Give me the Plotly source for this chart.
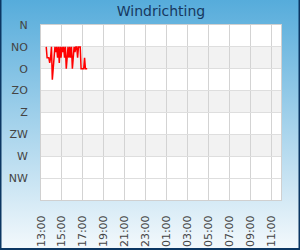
import base64
import pandas as pd
import plotly.graph_objects as go

# ---- data ----
title_text = "Windrichting"
direction_labels = ["N", "NO", "O", "ZO", "Z", "ZW", "W", "NW"]
direction_degrees = [0, 45, 90, 135, 180, 225, 270, 315]
start_time = "2024-06-10 13:30"
interval = "5min"
wind_dir = [45, 67.5, 67.5, 67.5, 78, 67.5, 45, 112.5, 90, 67.5,
            45, 56, 45, 67.5, 45, 78, 45, 67.5, 45, 56,
            45, 67.5, 45, 90, 56, 45, 67.5, 45, 67.5, 45,
            90, 67.5, 45, 56, 45, 45, 67.5, 45, 45, 45,
            90, 90, 90, 90, 67.5, 90, 90, 90]
x_start = "2024-06-10 13:00"
x_end = "2024-06-11 11:57"
band_pairs = [(45, 90), (135, 180), (225, 270)]

times = pd.date_range(start_time, periods=len(wind_dir), freq=interval)

W, H = 300, 250
ML, MR, MT, MB = 41, 19, 25, 50
PW, PH = W - ML - MR, H - MT - MB

def px(xp):
    return (xp - ML) / PW

def py(yp):
    return 1 - (yp - MT) / PH

svg = (
    f'<svg xmlns="http://www.w3.org/2000/svg" width="{W}" height="{H}" preserveAspectRatio="none">'
    '<defs><linearGradient id="g" x1="0" y1="0" x2="0" y2="1">'
    '<stop offset="0" stop-color="#56acdb"/>'
    '<stop offset="1" stop-color="#f4f9fc"/>'
    '</linearGradient></defs>'
    f'<rect width="{W}" height="{H}" fill="url(#g)"/></svg>'
)
svg_uri = "data:image/svg+xml;base64," + base64.b64encode(svg.encode()).decode()

fig = go.Figure()
fig.add_trace(go.Scatter(
    x=times, y=wind_dir, mode="lines",
    line=dict(color="#ff0000", width=1.5),
    hoverinfo="skip", showlegend=False,
))

shapes = [dict(type="rect", xref="paper", yref="paper", x0=0, x1=1, y0=0, y1=1,
               fillcolor="#ffffff", line=dict(width=0), layer="below")]
for a, b in band_pairs:
    shapes.append(dict(type="rect", xref="paper", yref="y", x0=0, x1=1, y0=a, y1=b,
                       fillcolor="#f2f2f2", line=dict(width=0), layer="below"))
# outer border: left, bottom, right
bx0, bx1 = px(0.5), px(W - 0.5)
by0, by1 = py(H - 1), py(0)
shapes.append(dict(type="path", xref="paper", yref="paper",
                   path=f"M {bx0},{by1} L {bx0},{by0} L {bx1},{by0} L {bx1},{by1}",
                   line=dict(color="#0b3662", width=2), layer="above"))

fig.update_layout(
    template="none",
    width=W, height=H,
    margin=dict(l=ML, r=MR, t=MT, b=MB, pad=0, autoexpand=False),
    paper_bgcolor="#dbeef8",
    plot_bgcolor="#ffffff",
    font=dict(family="DejaVu Sans", size=11, color="#444444"),
    title=dict(text=title_text, x=0.5, xref="paper", xanchor="center",
               y=1 - 11 / H, yref="container", yanchor="middle",
               font=dict(family="DejaVu Sans", size=14, color="#17385f")),
    shapes=shapes,
    images=[dict(source=svg_uri, xref="paper", yref="paper",
                 x=px(0), y=py(0), sizex=W / PW, sizey=H / PH,
                 xanchor="left", yanchor="top", sizing="stretch", layer="below")],
    xaxis=dict(
        type="date", range=[x_start, x_end], automargin=False,
        tickformat="%H:%M", dtick=2 * 3600 * 1000, tick0=x_start,
        tickangle=-90, showgrid=True, gridcolor="#d3d3d3", gridwidth=1,
        ticks="outside", ticklen=10, tickcolor="rgba(0,0,0,0)",
        showline=True, linecolor="#d0d0d0", linewidth=1, mirror=True,
        zeroline=False, fixedrange=True,
    ),
    yaxis=dict(
        range=[360, 0], automargin=False,
        tickvals=direction_degrees, ticktext=direction_labels,
        showgrid=True, gridcolor="#dedede", gridwidth=1,
        ticks="outside", ticklen=10, tickcolor="rgba(0,0,0,0)",
        showline=True, linecolor="#d0d0d0", linewidth=1, mirror=True,
        zeroline=False, fixedrange=True,
    ),
)

fig.write_html("out.html", config={"displayModeBar": False})
